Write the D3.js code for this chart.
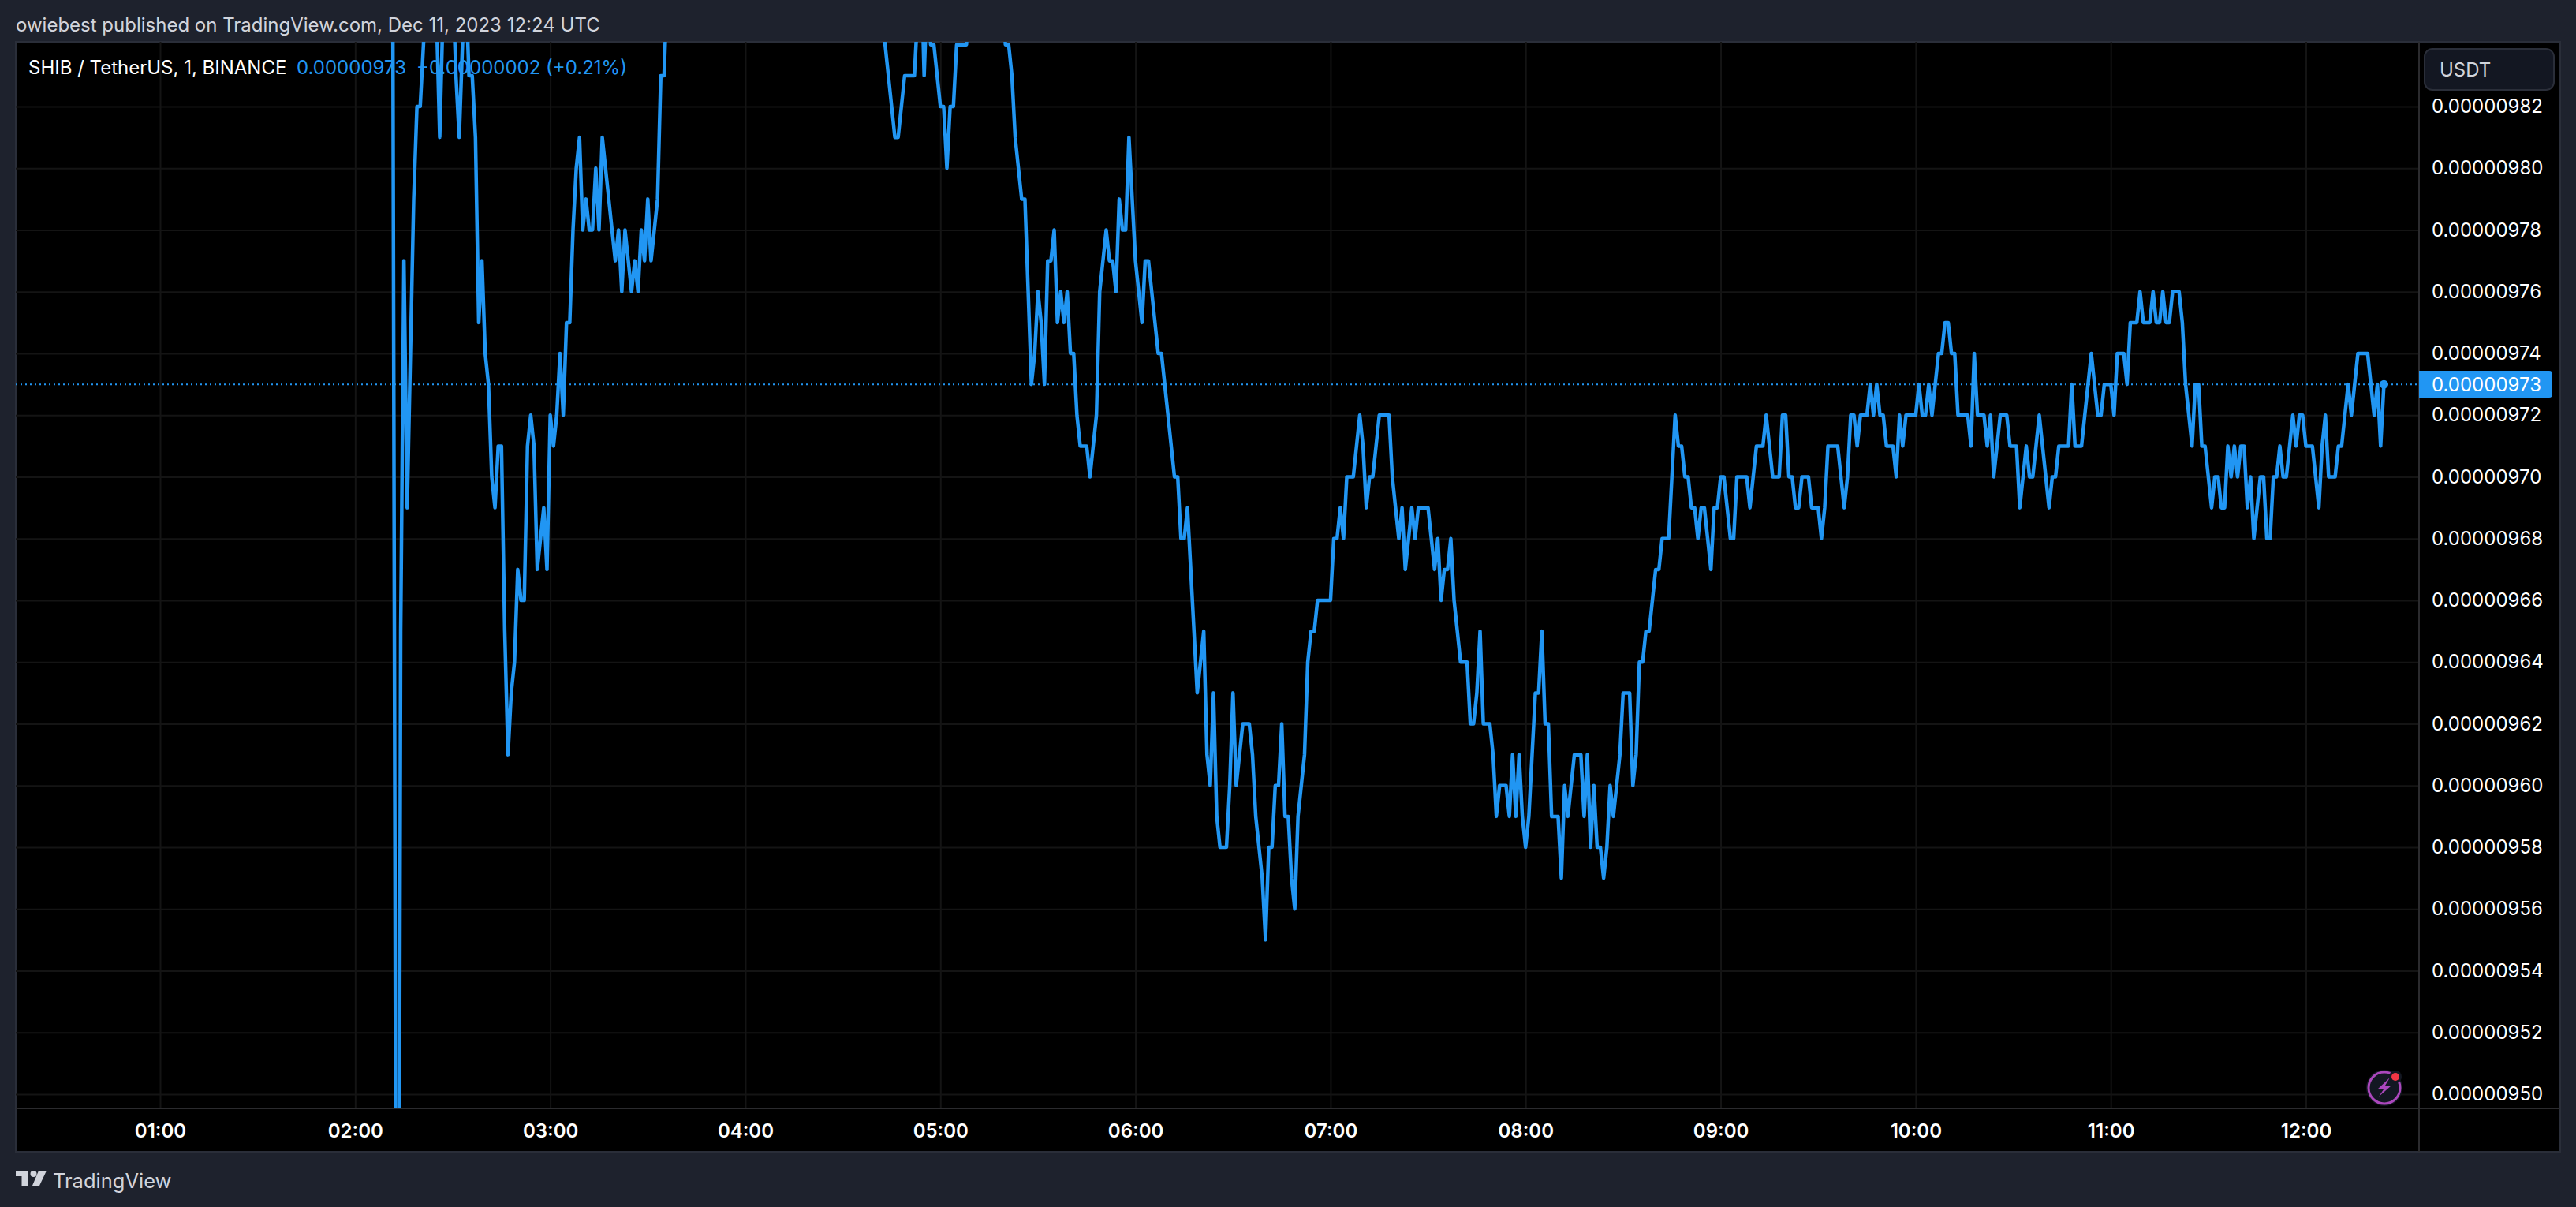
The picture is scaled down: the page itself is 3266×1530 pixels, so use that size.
<!DOCTYPE html>
<html>
<head>
<meta charset="utf-8">
<script src="https://cdn.jsdelivr.net/npm/d3@7"></script>
<style>
  html, body { margin: 0; padding: 0; background: #1e222d; }
  svg { display: block; font-family: Inter, "Noto Sans", sans-serif; }
</style>
</head>
<body>
<svg width="3266" height="1530"></svg>
<script>
// minutes after 00:00 UTC of each turning point of the line
const minutes = [
  131,133,134,135,136,137,138,139,140,141,
  142,143,144,145,146,147,148,149,150,151,
  152,153,154,155,156,157,158,159,160,161,
  162,163,164,165,166,167,168,169,170,171,
  172,173,174,175,176,177,178,179,180,181,
  182,183,184,185,186,187,188,189,190,191,
  192,193,194,195,196,197,198,199,200,201,
  202,203,204,205,206,207,208,209,210,211,
  212,213,214,215,216,217,230,250,270,283,
  286,287,288,289,292,293,294,295,296,297,
  298,300,301,302,303,304,305,308,309,319,
  320,321,322,323,325,326,327,328,329,330,
  331,332,333,334,335,336,337,338,339,340,
  341,342,343,345,346,347,348,349,350,351,
  352,353,354,355,356,357,358,359,360,362,
  363,364,367,368,369,370,372,373,374,375,
  376,377,379,380,381,382,383,384,385,386,
  388,389,390,391,393,395,396,397,399,400,
  401,402,403,404,405,406,407,408,409,410,
  411,412,413,414,415,416,420,421,422,423,
  424,425,427,428,429,430,431,432,433,434,
  435,438,439,441,442,443,444,445,446,447,
  450,451,452,453,454,455,456,457,458,460,
  462,463,464,465,466,467,469,470,471,472,
  474,475,476,477,478,479,480,481,482,483,
  484,485,486,487,488,490,491,492,493,495,
  497,498,499,500,501,502,503,504,505,506,
  507,508,509,510,512,513,514,515,516,517,
  518,519,520,521,522,524,525,526,527,528,
  529,530,531,532,533,534,535,537,538,539,
  540,541,543,544,545,548,549,550,551,553,
  554,556,558,559,560,561,562,563,564,565,
  567,568,570,571,572,573,576,578,579,580,
  581,582,583,585,586,587,588,589,590,591,
  593,594,595,596,597,600,601,602,603,604,
  605,606,607,608,609,610,611,612,613,616,
  617,618,619,621,622,623,624,626,628,629,
  631,632,634,635,636,638,641,642,643,644,
  647,648,649,651,654,656,657,658,660,661,
  662,664,665,666,668,669,670,672,673,674,
  675,676,677,678,679,681,682,683,685,686,
  687,688,689,691,692,693,694,695,696,697,
  698,699,700,701,702,703,704,706,707,708,
  709,710,711,712,713,714,716,717,718,719,
  720,722,724,725,726,727,729,730,731,733,
  734,736,739,741,742,743,744
];

// close price at those minutes, in 0.00000001 USDT
// (values above 984 and below 950 run off the chart, those are guesses)
const closes = [
  1010,925,965,977,969,974,979,982,982,984,
  986,987,987,985,981,985,987,987,986,983,
  981,984,986,983,983,981,975,977,974,973,
  970,969,971,971,965,961,963,964,967,966,
  966,971,972,971,967,968,969,967,972,971,
  972,974,972,975,975,978,980,981,978,979,
  978,978,980,978,981,980,979,978,977,978,
  976,978,977,976,977,976,978,977,979,977,
  978,979,983,983,986,988,995,1000,992,984,
  981,981,982,983,983,985,987,983,986,984,
  984,982,982,980,982,982,984,984,986,986,
  984,984,983,981,979,979,976,973,974,976,
  975,973,977,977,978,975,976,975,976,974,
  974,972,971,971,970,971,972,976,977,978,
  977,977,976,979,978,978,981,979,977,975,
  977,977,974,974,973,972,970,970,968,968,
  969,967,963,964,965,961,960,963,959,958,
  958,960,963,960,962,962,961,959,957,955,
  958,958,960,960,962,959,959,957,956,959,
  960,961,964,965,965,966,966,968,968,969,
  968,970,970,971,972,971,969,970,970,971,
  972,972,970,968,969,967,968,969,968,969,
  969,968,967,968,966,967,967,968,966,964,
  964,962,962,963,965,962,962,961,959,960,
  960,959,961,959,961,959,958,959,961,963,
  963,965,962,962,959,959,957,960,959,961,
  961,959,961,958,960,958,958,957,958,960,
  959,960,961,963,963,960,961,964,964,965,
  965,966,967,967,968,968,970,972,971,971,
  970,970,969,969,968,969,969,967,969,969,
  970,970,968,968,970,970,969,970,971,971,
  972,970,970,972,972,970,970,969,969,970,
  970,969,969,968,969,971,971,969,970,972,
  972,971,972,972,973,972,973,972,972,971,
  971,970,972,971,972,972,973,972,972,973,
  972,973,974,974,975,975,974,974,972,972,
  971,974,972,972,971,972,970,972,972,971,
  971,969,971,970,970,972,969,970,970,971,
  971,973,971,971,974,972,972,973,973,972,
  974,974,973,975,975,976,975,975,976,975,
  975,976,975,975,976,976,975,973,971,973,
  973,971,971,969,970,970,969,969,971,970,
  971,970,971,971,969,970,968,970,970,968,
  968,970,970,971,970,970,972,971,972,972,
  971,971,969,971,972,970,970,971,971,973,
  972,974,974,972,973,971,973
];

const priceTicks = [982,980,978,976,974,972,970,968,966,964,962,960,958,956,954,952,950];
const priceLabels = ["0.00000982","0.00000980","0.00000978","0.00000976","0.00000974","0.00000972",
  "0.00000970","0.00000968","0.00000966","0.00000964","0.00000962","0.00000960","0.00000958",
  "0.00000956","0.00000954","0.00000952","0.00000950"];
const timeTicks = [60,120,180,240,300,360,420,480,540,600,660,720];
const timeLabels = ["01:00","02:00","03:00","04:00","05:00","06:00","07:00","08:00","09:00","10:00","11:00","12:00"];

const lastClose = 973;
const lastLabel = "0.00000973";
const symbolText = "SHIB / TetherUS, 1, BINANCE";
const changeText = "+0.00000002 (+0.21%)";
const publishedText = "owiebest published on TradingView.com, Dec 11, 2023 12:24 UTC";

// frame of the chart
const left = 20, top_ = 53, sep = 3067, bottom = 1405, right = 3246, foot = 1460;
const blue = "#2196f3", gridColor = "#141414", borderColor = "#2a2e39", innerBorder = "#2b2b2e";

const svg = d3.select("svg");

const x = d3.scaleLinear().domain([60, 720]).range([203, 2923.5]);
const y = d3.scaleLinear().domain([950, 982]).range([1387, 135]);

svg.append("text").attr("x", left).attr("y", 40)
  .attr("font-size", 24).attr("fill", "#d1d4dc").text(publishedText);

// black panels
svg.append("rect").attr("x", left).attr("y", top_).attr("width", right - left).attr("height", foot - top_)
  .attr("fill", "#000").attr("stroke", borderColor).attr("stroke-width", 2);

svg.append("clipPath").attr("id", "plot").append("rect")
  .attr("x", left).attr("y", top_).attr("width", sep - left).attr("height", bottom - top_);

// grid, just axes with long ticks
const gridY = svg.append("g")
  .attr("transform", `translate(${sep},0)`)
  .call(d3.axisLeft(y).tickValues(priceTicks).tickSize(sep - left).tickFormat(""));
const gridX = svg.append("g")
  .attr("transform", `translate(0,${bottom})`)
  .call(d3.axisTop(x).tickValues(timeTicks).tickSize(bottom - top_).tickFormat(""));
[gridY, gridX].forEach(g => {
  g.select(".domain").remove();
  g.selectAll("line").attr("stroke", gridColor).attr("stroke-width", 2);
});

// separators of the price and time scales
svg.append("line").attr("x1", sep).attr("x2", sep).attr("y1", top_).attr("y2", foot)
  .attr("stroke", innerBorder).attr("stroke-width", 2);
svg.append("line").attr("x1", left).attr("x2", right).attr("y1", bottom).attr("y2", bottom)
  .attr("stroke", innerBorder).attr("stroke-width", 2);

// legend sits under the line
const legend = svg.append("text").attr("x", 36).attr("y", 94).attr("font-size", 24);
legend.append("tspan").attr("fill", "#fff").text(symbolText);
legend.append("tspan").attr("x", 376).attr("fill", blue).text(lastLabel);
legend.append("tspan").attr("x", 528).attr("fill", blue).text(changeText);

// last price dotted line
svg.append("line").attr("x1", left).attr("x2", sep)
  .attr("y1", y(lastClose)).attr("y2", y(lastClose))
  .attr("stroke", blue).attr("stroke-width", 2).attr("stroke-dasharray", "2 4");

// the line itself
const line = d3.line().x(i => x(minutes[i])).y(i => y(closes[i]));
svg.append("g").attr("clip-path", "url(#plot)").append("path")
  .attr("d", line(d3.range(minutes.length)))
  .attr("fill", "none").attr("stroke", blue).attr("stroke-width", 4.5)
  .attr("stroke-linejoin", "round").attr("stroke-linecap", "round");

svg.append("circle").attr("cx", x(744)).attr("cy", y(lastClose)).attr("r", 5.5).attr("fill", blue);

// price scale
const axisY = svg.append("g").attr("transform", `translate(${sep + 16},0)`)
  .call(d3.axisRight(y).tickValues(priceTicks).tickSize(0).tickPadding(0)
    .tickFormat((d, i) => priceLabels[i]));
axisY.select(".domain").remove();
axisY.selectAll("text").attr("font-family", "Inter").attr("font-size", 24).attr("fill", "#fff");

// time scale
const axisX = svg.append("g").attr("transform", `translate(0,${bottom})`)
  .call(d3.axisBottom(x).tickValues(timeTicks).tickSize(0).tickPadding(20)
    .tickFormat((d, i) => timeLabels[i]));
axisX.select(".domain").remove();
axisX.selectAll("text").attr("font-family", "Inter").attr("font-size", 24)
  .attr("font-weight", 600).attr("fill", "#fff");

// last price tag
svg.append("path")
  .attr("d", "M3067,470H3232a4,4 0 0 1 4,4V500a4,4 0 0 1 -4,4H3067Z").attr("fill", blue);
svg.append("text").attr("x", sep + 16).attr("y", y(lastClose)).attr("dy", "0.35em")
  .attr("font-size", 24).attr("fill", "#fff").text(lastLabel);

// currency button
svg.append("rect").attr("x", 3074).attr("y", 62).attr("width", 164).attr("height", 52).attr("rx", 10)
  .attr("fill", "#131722").attr("stroke", borderColor).attr("stroke-width", 2);
svg.append("text").attr("x", 3093).attr("y", 97).attr("font-size", 24).attr("fill", "#d1d4dc").text("USDT");

// lightning badge
const badge = svg.append("g").attr("transform", "translate(3023,1379)");
badge.append("circle").attr("r", 23).attr("fill", "#131722");
badge.append("circle").attr("r", 20).attr("fill", "#131722").attr("stroke", "#ab47bc").attr("stroke-width", 3);
badge.append("path").attr("d", "M7,-13L-9,2H-1L-7,11L9,-3H1Z").attr("fill", "#ab47bc");
badge.append("circle").attr("cx", 14).attr("cy", -14).attr("r", 8).attr("fill", "#131722");
badge.append("circle").attr("cx", 14).attr("cy", -14).attr("r", 5).attr("fill", "#f23645");

// TradingView logo and name
const logo = svg.append("g").attr("fill", "#d1d4dc");
logo.append("path").attr("d", "M20,1484H35V1503H27.5V1491H20Z");
logo.append("circle").attr("cx", 42.5).attr("cy", 1488).attr("r", 4);
logo.append("path").attr("d", "M49,1484H59L50,1503H41Z");
svg.append("text").attr("x", 67).attr("y", 1506).attr("font-size", 25.5).attr("fill", "#d1d4dc").text("TradingView");
</script>
</body>
</html>
